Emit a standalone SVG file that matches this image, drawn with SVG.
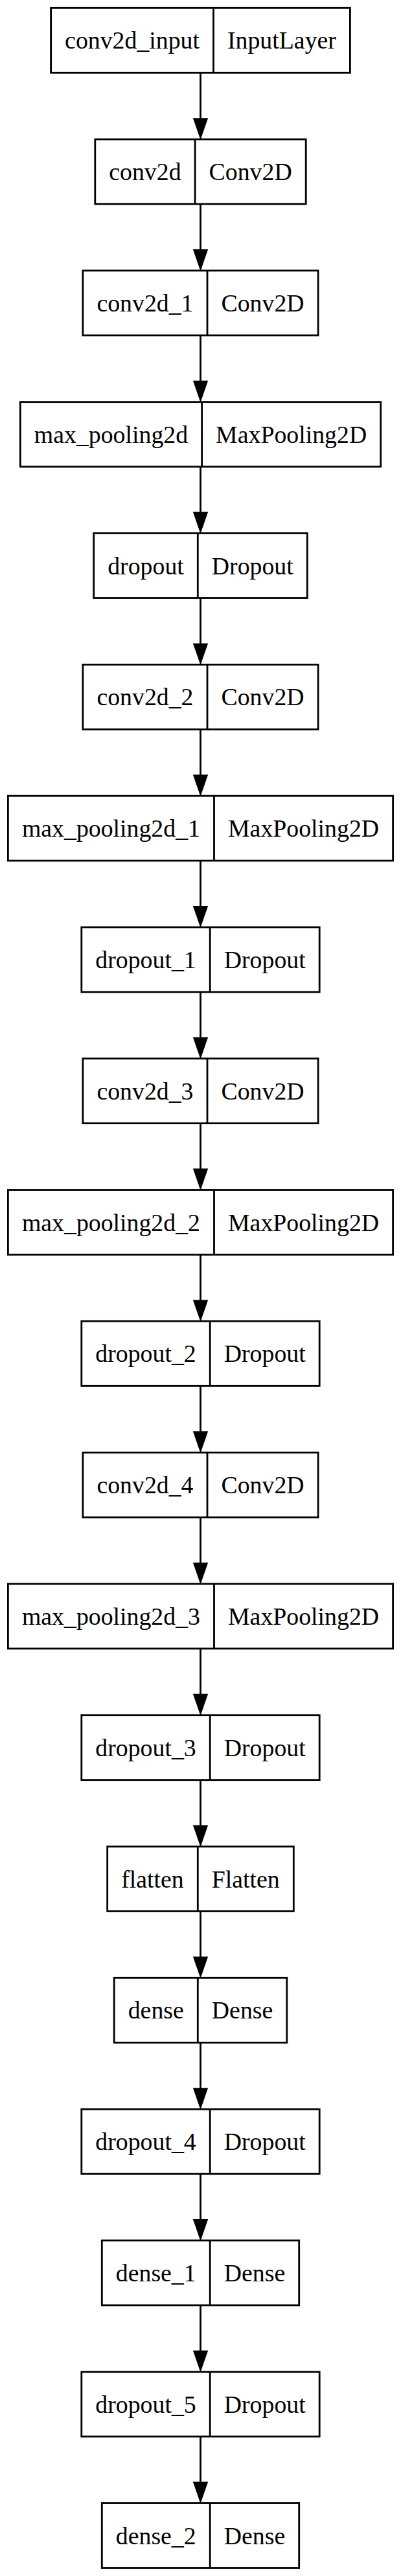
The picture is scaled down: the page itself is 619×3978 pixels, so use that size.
<svg xmlns="http://www.w3.org/2000/svg" xmlns:xlink="http://www.w3.org/1999/xlink" width="619" height="3978" viewBox="0 0 619 3978">
<style>
rect.b{fill:none;stroke:#000;stroke-width:2.8}
line.d{stroke:#000;stroke-width:2.8}
text{font-family:"Liberation Serif","Times New Roman",serif;font-size:37.8px;text-anchor:middle;fill:#000}
.e line{stroke:#000;stroke-width:2.8}
.e use{fill:#000;stroke:#000;stroke-width:2.8}
</style>
<defs><polygon id="ah" points="-9.7,-28 9.7,-28 0,0"/></defs>
<rect width="619" height="3978" fill="#fff"/>
<g id="edges" class="e">
<line x1="309.5" y1="112.3" x2="309.5" y2="183.6"/><use xlink:href="#ah" x="309.5" y="211.6"/>
<line x1="309.5" y1="315.1" x2="309.5" y2="386.4"/><use xlink:href="#ah" x="309.5" y="414.4"/>
<line x1="309.5" y1="517.9" x2="309.5" y2="589.2"/><use xlink:href="#ah" x="309.5" y="617.2"/>
<line x1="309.5" y1="720.7" x2="309.5" y2="792.0"/><use xlink:href="#ah" x="309.5" y="820.0"/>
<line x1="309.5" y1="923.5" x2="309.5" y2="994.8"/><use xlink:href="#ah" x="309.5" y="1022.8"/>
<line x1="309.5" y1="1126.3" x2="309.5" y2="1197.6"/><use xlink:href="#ah" x="309.5" y="1225.6"/>
<line x1="309.5" y1="1329.1" x2="309.5" y2="1400.4"/><use xlink:href="#ah" x="309.5" y="1428.4"/>
<line x1="309.5" y1="1531.9" x2="309.5" y2="1603.2"/><use xlink:href="#ah" x="309.5" y="1631.2"/>
<line x1="309.5" y1="1734.7" x2="309.5" y2="1806.0"/><use xlink:href="#ah" x="309.5" y="1834.0"/>
<line x1="309.5" y1="1937.5" x2="309.5" y2="2008.8"/><use xlink:href="#ah" x="309.5" y="2036.8"/>
<line x1="309.5" y1="2140.3" x2="309.5" y2="2211.6"/><use xlink:href="#ah" x="309.5" y="2239.6"/>
<line x1="309.5" y1="2343.1" x2="309.5" y2="2414.4"/><use xlink:href="#ah" x="309.5" y="2442.4"/>
<line x1="309.5" y1="2545.9" x2="309.5" y2="2617.2"/><use xlink:href="#ah" x="309.5" y="2645.2"/>
<line x1="309.5" y1="2748.7" x2="309.5" y2="2820.0"/><use xlink:href="#ah" x="309.5" y="2848.0"/>
<line x1="309.5" y1="2951.5" x2="309.5" y2="3022.8"/><use xlink:href="#ah" x="309.5" y="3050.8"/>
<line x1="309.5" y1="3154.3" x2="309.5" y2="3225.6"/><use xlink:href="#ah" x="309.5" y="3253.6"/>
<line x1="309.5" y1="3357.1" x2="309.5" y2="3428.4"/><use xlink:href="#ah" x="309.5" y="3456.4"/>
<line x1="309.5" y1="3559.9" x2="309.5" y2="3631.2"/><use xlink:href="#ah" x="309.5" y="3659.2"/>
<line x1="309.5" y1="3762.7" x2="309.5" y2="3834.0"/><use xlink:href="#ah" x="309.5" y="3862.0"/>
</g>
<g id="conv2d_input" transform="translate(0,12.3)"><rect class="b" x="78.6" y="0" width="461.8" height="100"/><line class="d" x1="329.5" y1="0" x2="329.5" y2="100"/><text x="204.05" y="63">conv2d_input</text><text x="434.95" y="63">InputLayer</text></g>
<g id="conv2d" transform="translate(0,215.1)"><rect class="b" x="146.8" y="0" width="325.4" height="100"/><line class="d" x1="301.1" y1="0" x2="301.1" y2="100"/><text x="223.95" y="63">conv2d</text><text x="386.65" y="63">Conv2D</text></g>
<g id="conv2d_1" transform="translate(0,417.9)"><rect class="b" x="127.9" y="0" width="363.2" height="100"/><line class="d" x1="320" y1="0" x2="320" y2="100"/><text x="223.95" y="63">conv2d_1</text><text x="405.55" y="63">Conv2D</text></g>
<g id="max_pooling2d" transform="translate(0,620.7)"><rect class="b" x="31.3" y="0" width="556.4" height="100"/><line class="d" x1="311.6" y1="0" x2="311.6" y2="100"/><text x="171.45" y="63">max_pooling2d</text><text x="449.65" y="63">MaxPooling2D</text></g>
<g id="dropout" transform="translate(0,823.5)"><rect class="b" x="144.7" y="0" width="329.6" height="100"/><line class="d" x1="305.3" y1="0" x2="305.3" y2="100"/><text x="225" y="63">dropout</text><text x="389.8" y="63">Dropout</text></g>
<g id="conv2d_2" transform="translate(0,1026.3)"><rect class="b" x="127.9" y="0" width="363.2" height="100"/><line class="d" x1="320" y1="0" x2="320" y2="100"/><text x="223.95" y="63">conv2d_2</text><text x="405.55" y="63">Conv2D</text></g>
<g id="max_pooling2d_1" transform="translate(0,1229.1)"><rect class="b" x="12.4" y="0" width="594.2" height="100"/><line class="d" x1="330.5" y1="0" x2="330.5" y2="100"/><text x="171.45" y="63">max_pooling2d_1</text><text x="468.55" y="63">MaxPooling2D</text></g>
<g id="dropout_1" transform="translate(0,1431.9)"><rect class="b" x="125.8" y="0" width="367.4" height="100"/><line class="d" x1="324.2" y1="0" x2="324.2" y2="100"/><text x="225" y="63">dropout_1</text><text x="408.7" y="63">Dropout</text></g>
<g id="conv2d_3" transform="translate(0,1634.7)"><rect class="b" x="127.9" y="0" width="363.2" height="100"/><line class="d" x1="320" y1="0" x2="320" y2="100"/><text x="223.95" y="63">conv2d_3</text><text x="405.55" y="63">Conv2D</text></g>
<g id="max_pooling2d_2" transform="translate(0,1837.5)"><rect class="b" x="12.4" y="0" width="594.2" height="100"/><line class="d" x1="330.5" y1="0" x2="330.5" y2="100"/><text x="171.45" y="63">max_pooling2d_2</text><text x="468.55" y="63">MaxPooling2D</text></g>
<g id="dropout_2" transform="translate(0,2040.3)"><rect class="b" x="125.8" y="0" width="367.4" height="100"/><line class="d" x1="324.2" y1="0" x2="324.2" y2="100"/><text x="225" y="63">dropout_2</text><text x="408.7" y="63">Dropout</text></g>
<g id="conv2d_4" transform="translate(0,2243.1)"><rect class="b" x="127.9" y="0" width="363.2" height="100"/><line class="d" x1="320" y1="0" x2="320" y2="100"/><text x="223.95" y="63">conv2d_4</text><text x="405.55" y="63">Conv2D</text></g>
<g id="max_pooling2d_3" transform="translate(0,2445.9)"><rect class="b" x="12.4" y="0" width="594.2" height="100"/><line class="d" x1="330.5" y1="0" x2="330.5" y2="100"/><text x="171.45" y="63">max_pooling2d_3</text><text x="468.55" y="63">MaxPooling2D</text></g>
<g id="dropout_3" transform="translate(0,2648.7)"><rect class="b" x="125.8" y="0" width="367.4" height="100"/><line class="d" x1="324.2" y1="0" x2="324.2" y2="100"/><text x="225" y="63">dropout_3</text><text x="408.7" y="63">Dropout</text></g>
<g id="flatten" transform="translate(0,2851.5)"><rect class="b" x="165.7" y="0" width="287.6" height="100"/><line class="d" x1="305.3" y1="0" x2="305.3" y2="100"/><text x="235.5" y="63">flatten</text><text x="379.3" y="63">Flatten</text></g>
<g id="dense" transform="translate(0,3054.3)"><rect class="b" x="176.2" y="0" width="266.6" height="100"/><line class="d" x1="305.3" y1="0" x2="305.3" y2="100"/><text x="240.75" y="63">dense</text><text x="374.05" y="63">Dense</text></g>
<g id="dropout_4" transform="translate(0,3257.1)"><rect class="b" x="125.8" y="0" width="367.4" height="100"/><line class="d" x1="324.2" y1="0" x2="324.2" y2="100"/><text x="225" y="63">dropout_4</text><text x="408.7" y="63">Dropout</text></g>
<g id="dense_1" transform="translate(0,3459.9)"><rect class="b" x="157.3" y="0" width="304.4" height="100"/><line class="d" x1="324.2" y1="0" x2="324.2" y2="100"/><text x="240.75" y="63">dense_1</text><text x="392.95" y="63">Dense</text></g>
<g id="dropout_5" transform="translate(0,3662.7)"><rect class="b" x="125.8" y="0" width="367.4" height="100"/><line class="d" x1="324.2" y1="0" x2="324.2" y2="100"/><text x="225" y="63">dropout_5</text><text x="408.7" y="63">Dropout</text></g>
<g id="dense_2" transform="translate(0,3865.5)"><rect class="b" x="157.3" y="0" width="304.4" height="100"/><line class="d" x1="324.2" y1="0" x2="324.2" y2="100"/><text x="240.75" y="63">dense_2</text><text x="392.95" y="63">Dense</text></g>
</svg>
